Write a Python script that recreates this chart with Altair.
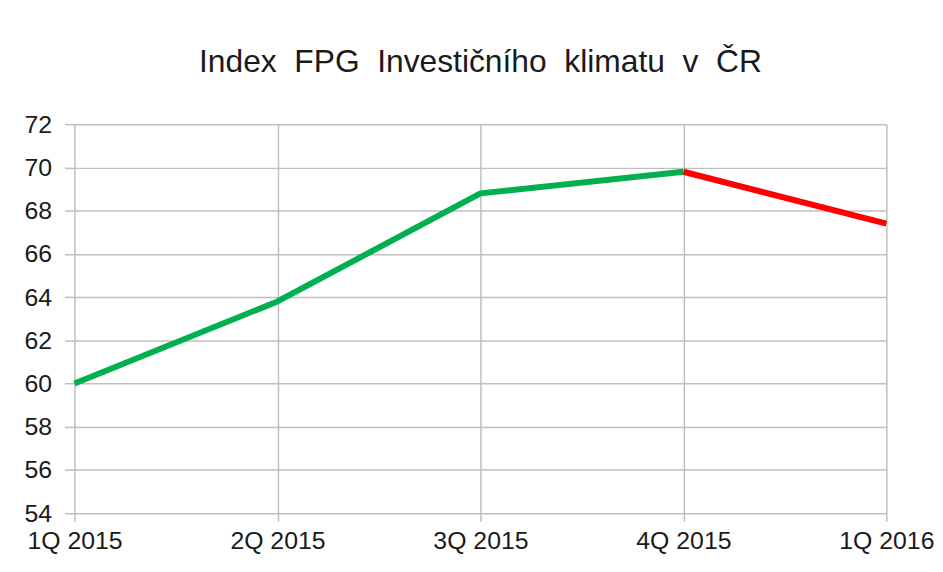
import altair as alt
import pandas as pd

quarters = ["1Q 2015", "2Q 2015", "3Q 2015", "4Q 2015", "1Q 2016"]
green_q = ["1Q 2015", "2Q 2015", "3Q 2015", "4Q 2015"]
green_v = [60.0, 63.8, 68.8, 69.8]
red_q = ["4Q 2015", "1Q 2016"]
red_v = [69.8, 67.4]
y_ticks = [54, 56, 58, 60, 62, 64, 66, 68, 70, 72]

df = pd.DataFrame(
    {"q": green_q + red_q,
     "v": green_v + red_v,
     "s": ["růst"] * len(green_q) + ["pokles"] * len(red_q)}
)

FONT = "Liberation Sans"
title_text = "Index\u00a0 FPG\u00a0 Investičního\u00a0 klimatu\u00a0 v\u00a0 ČR"

chart = (
    alt.Chart(df)
    .mark_line(strokeWidth=6, strokeCap="butt", strokeJoin="round")
    .encode(
        x=alt.X("q:N", sort=quarters, scale=alt.Scale(type="point", padding=0, domain=quarters),
                axis=alt.Axis(title=None, labelAngle=0, tickSize=8, labelPadding=8, grid=True,
                              labelFlush=False, labelOverlap=False, domain=False)),
        y=alt.Y("v:Q", scale=alt.Scale(domain=[54, 72], nice=False, zero=False),
                axis=alt.Axis(title=None, values=y_ticks, tickSize=10, labelPadding=13,
                              domain=False)),
        color=alt.Color("s:N", scale=alt.Scale(domain=["růst", "pokles"],
                                               range=["#00B050", "#FF0000"]), legend=None),
        detail="s:N",
    )
    .properties(
        width=818, height=392,
        title=alt.TitleParams(title_text, anchor="middle", fontSize=32, font=FONT,
                              fontWeight="normal", color="#1a1a1a", offset=34),
        autosize=alt.AutoSizeParams(type="none"),
        padding={"left": 67, "top": 115, "right": 49, "bottom": 44},
        background="white",
    )
    .configure_axis(
        labelFont=FONT, labelFontSize=25, labelColor="#1a1a1a",
        gridColor="#BFBFBF", gridWidth=1.5, gridOpacity=1,
        tickColor="#BFBFBF", tickWidth=1.5,
    )
    .configure_view(stroke=None)
)

chart.save("out.html", embed_options={"renderer": "svg", "actions": False})
